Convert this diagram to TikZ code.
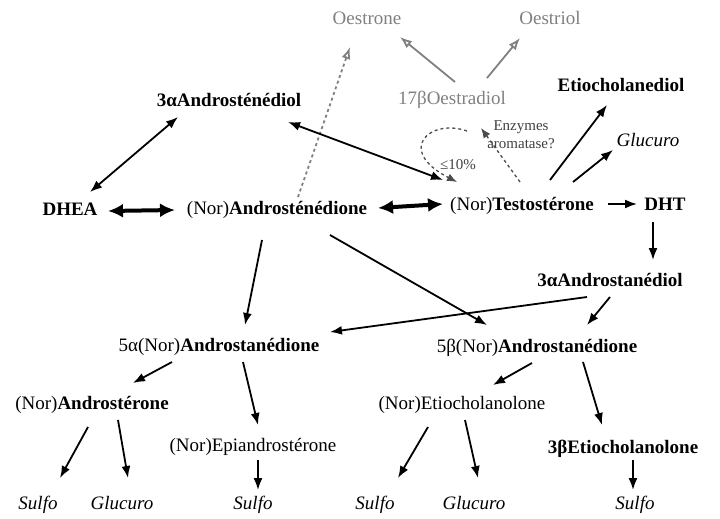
\documentclass[tikz,border=0pt]{standalone}
\usepackage{fontspec}
\setmainfont{Liberation Serif}
\usetikzlibrary{arrows.meta}

\begin{document}
\begin{tikzpicture}[x=1pt,y=-1pt]
\tikzstyle{mol}=[font=\fontsize{19}{21}\selectfont,inner sep=1pt,text height=13pt,text depth=4pt]
\tikzstyle{oes}=[mol,text=black!50]
\tikzstyle{conj}=[mol,font=\fontsize{19}{21}\selectfont\itshape]
\tikzstyle{note}=[font=\fontsize{15}{18}\selectfont,text=black!75,inner sep=1pt]
\tikzstyle{arr}=[-{Latex[length=12pt,width=9pt]},line width=1.8pt]
\tikzstyle{bothway}=[{Latex[length=12pt,width=9pt]}-{Latex[length=12pt,width=9pt]},line width=1.8pt]
\tikzstyle{dbl}=[{Latex[length=15pt,width=14pt]}-{Latex[length=15pt,width=14pt]},line width=4pt]
\tikzstyle{garr}=[-{Latex[open,length=12pt,width=9pt]},line width=1.8pt,color=black!50]
\tikzstyle{dasharr}=[garr,dashed]
\tikzstyle{looparr}=[-{Latex[length=10pt,width=8pt]},line width=1.3pt,color=black!70,dashed]
\useasboundingbox (0,0) rectangle (720,519);

% oestrogens
\node[oes] at (367,20) (oestrone) {Oestrone};
\node[oes] at (550,20) (oestriol) {Oestriol};
\node[oes] at (452,100) (oestradiol) {17βOestradiol};

% upper row
\node[mol] at (229,102) (adiol) {\textbf{3αAndrosténédiol}};
\node[mol] at (70,211) (dhea) {\textbf{DHEA}};
\node[mol] at (277,210) (adione) {(Nor)\textbf{Androsténédione}};
\node[mol] at (522,206) (testo) {(Nor)\textbf{Testostérone}};
\node[mol] at (665,206) (dht) {\textbf{DHT}};
\node[mol] at (621,87) (etiodiol) {\textbf{Etiocholanediol}};
\node[conj] at (648,142) (glucA) {Glucuro};
\node[note,align=center] at (521,135) (enz) {Enzymes\\aromatase?};
\node[note] at (458,165) (pct) {≤10\%};
\coordinate (ez) at (481,128);

% middle row
\node[mol] at (610,282) (aadiol) {\textbf{3αAndrostanédiol}};
\node[mol] at (219,347) (aana) {5α(Nor)\textbf{Androstanédione}};
\node[mol] at (537,348) (bana) {5β(Nor)\textbf{Androstanédione}};

% lower rows
\node[mol] at (92,405) (andro) {(Nor)\textbf{Androstérone}};
\node[mol] at (253,447) (epi) {(Nor)Epiandrostérone};
\node[mol] at (462,405) (etio) {(Nor)Etiocholanolone};
\node[mol] at (623,449) (betio) {\textbf{3βEtiocholanolone}};
\node[conj] at (38,505) (sulfoA) {Sulfo};
\node[conj] at (122,505) (glucB) {Glucuro};
\node[conj] at (253,505) (sulfoB) {Sulfo};
\node[conj] at (375,505) (sulfoC) {Sulfo};
\node[conj] at (474,505) (glucC) {Glucuro};
\node[conj] at (635,505) (sulfoD) {Sulfo};

\draw[garr] ([shift={(3,-18)}]oestradiol.center) -- ([shift={(33,17)}]oestrone.center);
\draw[garr] ([shift={(35,-22)}]oestradiol.center) -- ([shift={(-30,18)}]oestriol.center);
\draw[dasharr] ([shift={(21,-13)}]adione.center) -- ([shift={(-17,27)}]oestrone.center);

\draw[bothway] ([shift={(20,-19)}]dhea.center) -- ([shift={(-51,15)}]adiol.center);
\draw[dbl] ([shift={(38,0)}]dhea.center) -- ([shift={(-102,0)}]adione.center);
\draw[dbl] ([shift={(101,-2)}]adione.center) -- ([shift={(-79,-2)}]testo.center);
\draw[bothway] ([shift={(-79,-26)}]testo.center) -- ([shift={(59,20)}]adiol.center);
\draw[arr] ([shift={(86,-2)}]testo.center) -- ([shift={(-28,-2)}]dht.center);
\draw[arr] ([shift={(-12,16)}]dht.center) -- ([shift={(43,-22)}]aadiol.center);
\draw[arr] ([shift={(28,-26)}]testo.center) -- ([shift={(-14,18)}]etiodiol.center);
\draw[arr] ([shift={(51,-24)}]testo.center) -- ([shift={(-35,8)}]glucA.center);
\draw[looparr] ([shift={(-2,-24)}]testo.center) -- (ez);
\draw[looparr] ([shift={(-14,3)}]ez) .. controls (430,118) and (395,150) .. ([shift={(-65,-24)}]testo.center);

\draw[arr] ([shift={(-15,30)}]adione.center) -- ([shift={(26,-22)}]aana.center);
\draw[arr] ([shift={(53,25)}]adione.center) -- ([shift={(-50,-23)}]bana.center);
\draw[arr] ([shift={(-23,15)}]aadiol.center) -- ([shift={(111,-15)}]aana.center);
\draw[arr] ([shift={(0,15)}]aadiol.center) -- ([shift={(50,-23)}]bana.center);

\draw[arr] ([shift={(-47,15)}]aana.center) -- ([shift={(41,-22)}]andro.center);
\draw[arr] ([shift={(24,15)}]aana.center) -- ([shift={(5,-22)}]epi.center);
\draw[arr] ([shift={(-5,15)}]bana.center) -- ([shift={(31,-20)}]etio.center);
\draw[arr] ([shift={(46,14)}]bana.center) -- ([shift={(-21,-24)}]betio.center);

\draw[arr] ([shift={(-4,22)}]andro.center) -- ([shift={(22,-27)}]sulfoA.center);
\draw[arr] ([shift={(26,15)}]andro.center) -- ([shift={(6,-27)}]glucB.center);
\draw[arr] ([shift={(5,13)}]epi.center) -- ([shift={(5,-15)}]sulfoB.center);
\draw[arr] ([shift={(-34,22)}]etio.center) -- ([shift={(23,-27)}]sulfoC.center);
\draw[arr] ([shift={(3,15)}]etio.center) -- ([shift={(4,-27)}]glucC.center);
\draw[arr] ([shift={(10,11)}]betio.center) -- ([shift={(-2,-15)}]sulfoD.center);
\end{tikzpicture}
\end{document}
